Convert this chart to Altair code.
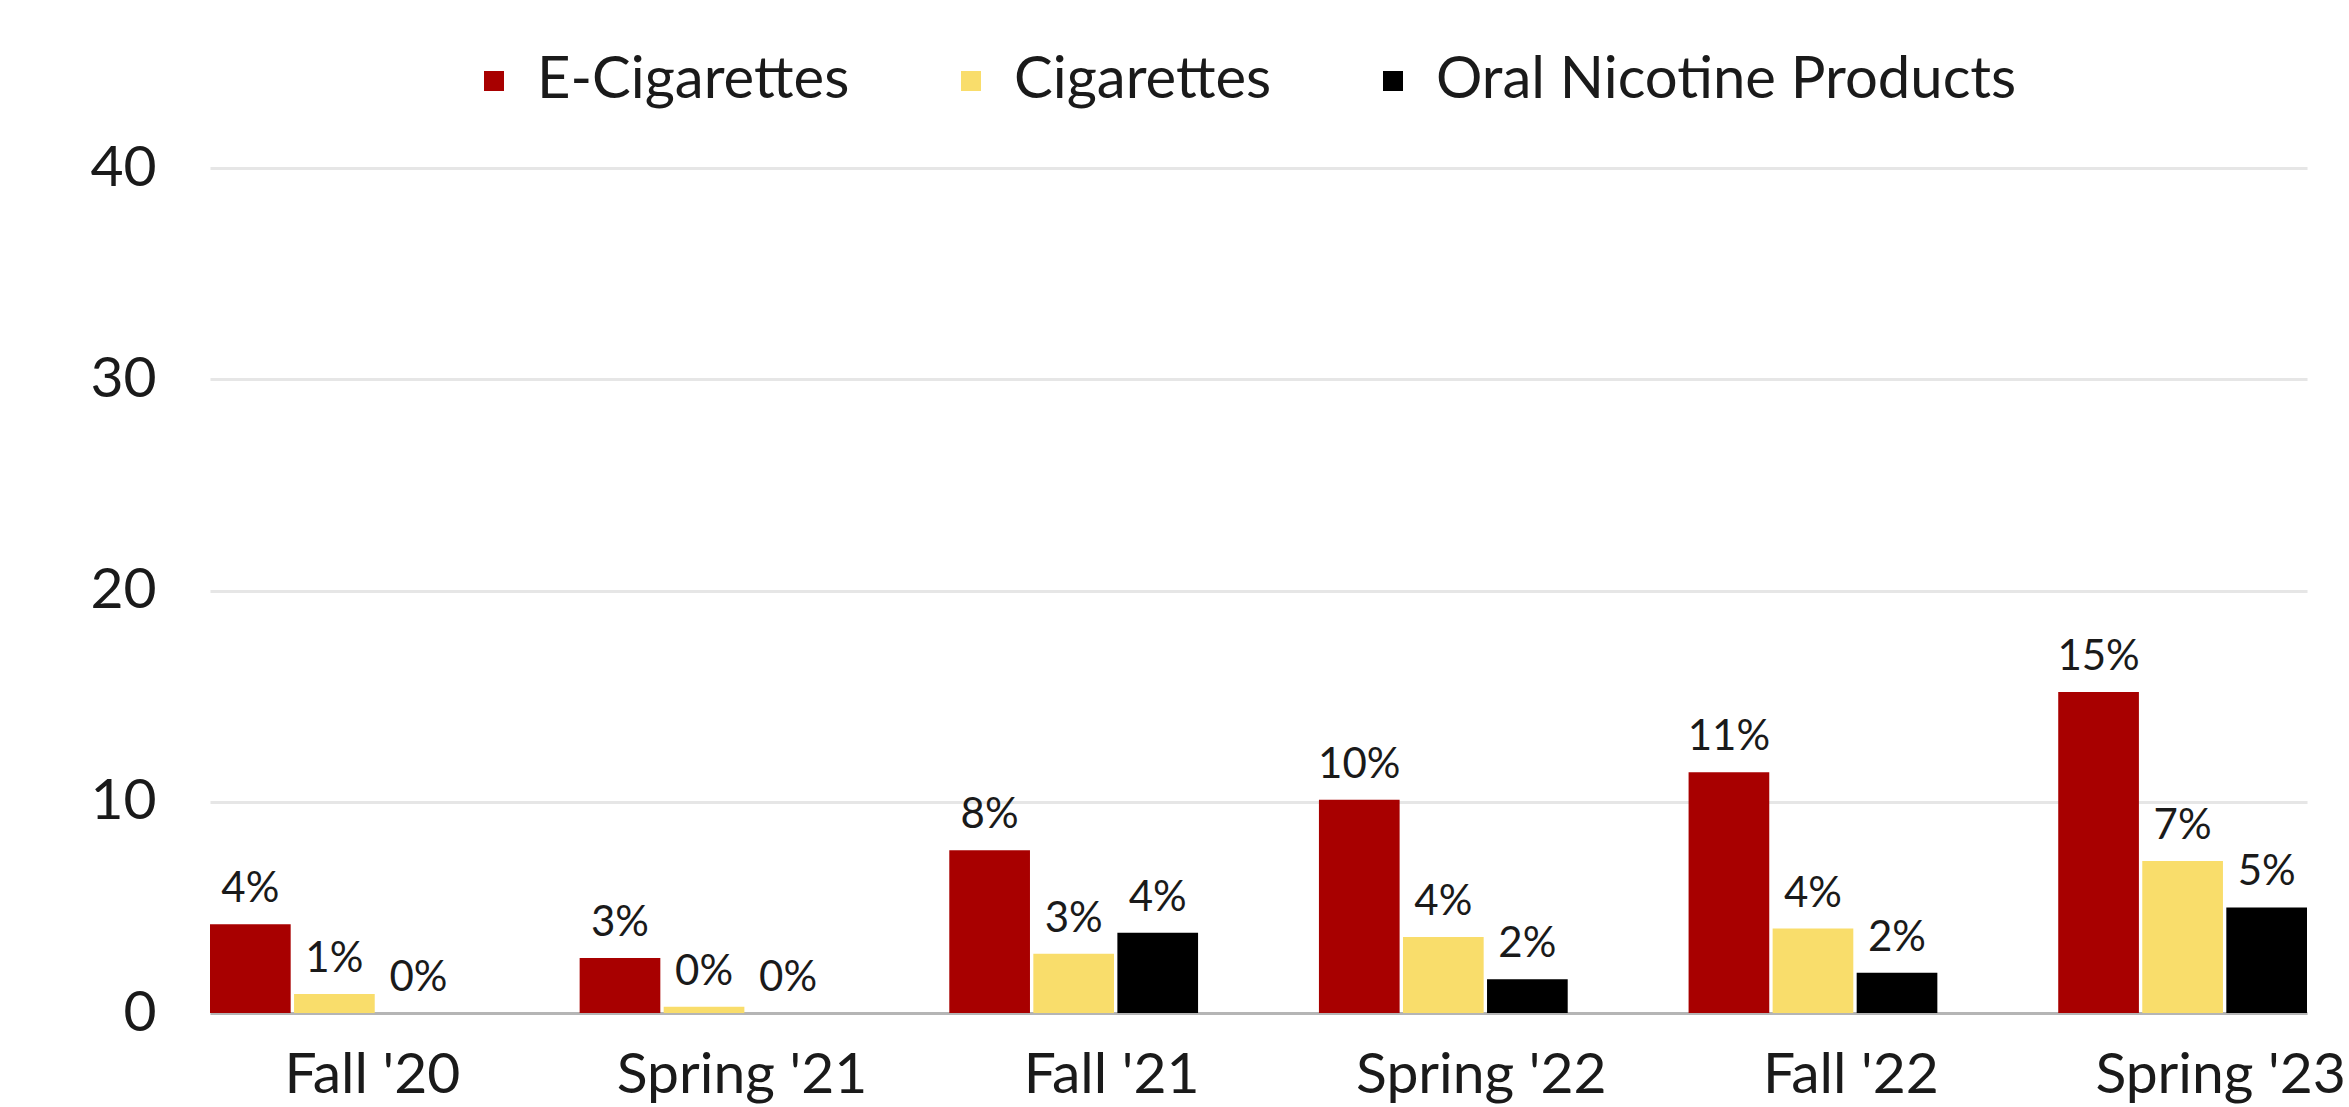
import altair as alt
import pandas as pd

# Survey waves and product categories
seasons = ["Fall '20", "Spring '21", "Fall '21", "Spring '22", "Fall '22", "Spring '23"]
products = ["E-Cigarettes", "Cigarettes", "Oral Nicotine Products"]

# Share of respondents (%) per wave
e_cigarettes = [4.2, 2.6, 7.7, 10.1, 11.4, 15.2]
cigarettes = [0.9, 0.3, 2.8, 3.6, 4.0, 7.2]
oral_nicotine = [0.0, 0.0, 3.8, 1.6, 1.9, 5.0]

colors = ["#A80000", "#F9DD6B", "#000000"]

rows = []
for prod, vals in zip(products, [e_cigarettes, cigarettes, oral_nicotine]):
    for s, v in zip(seasons, vals):
        rows.append({"season": s, "product": prod, "value": v})
df = pd.DataFrame(rows)

FONT = "Lato"
INK = "#1a1a1a"

x_enc = alt.X(
    "season:N",
    sort=seasons,
    scale=alt.Scale(paddingInner=0.327, paddingOuter=0),
    axis=alt.Axis(
        title=None,
        labelAngle=0,
        labelFontSize=57,
        labelFont=FONT,
        labelColor=INK,
        labelPadding=34,
        labelOffset=38,
        labelLimit=0,
        ticks=False,
        domain=True,
        domainColor="#b5b5b5",
        domainWidth=3,
        grid=False,
    ),
)
xoff_enc = alt.XOffset("product:N", sort=products, scale=alt.Scale(paddingInner=0.04))
y_enc = alt.Y(
    "value:Q",
    scale=alt.Scale(domain=[0, 40], nice=False),
    axis=alt.Axis(
        title=None,
        values=[0, 10, 20, 30, 40],
        labelFontSize=57,
        labelFont=FONT,
        labelColor=INK,
        labelPadding=54,
        ticks=False,
        domain=False,
        grid=True,
        gridColor="#e6e6e6",
        gridWidth=3,
    ),
)
color_enc = alt.Color(
    "product:N",
    sort=products,
    scale=alt.Scale(domain=products, range=colors),
    legend=alt.Legend(
        title=None,
        orient="none",
        direction="horizontal",
        legendX=255,
        legendY=-116,
        symbolType="square",
        symbolSize=400,
        symbolStrokeWidth=0,
        labelFontSize=58,
        labelFont=FONT,
        labelColor=INK,
        labelLimit=0,
        columnPadding=92,
        symbolOffset=0,
        labelOffset=14,
    ),
)

bars = alt.Chart(df).mark_bar().encode(
    x=x_enc, xOffset=xoff_enc, y=y_enc, color=color_enc
)

labels = (
    alt.Chart(df)
    .transform_calculate(label="format(datum.value, '.0f') + '%'")
    .mark_text(baseline="bottom", dy=-13, fontSize=42, font=FONT, color=INK)
    .encode(
        x=alt.X("season:N", sort=seasons),
        xOffset=alt.XOffset("product:N", sort=products),
        y="value:Q",
        text="label:N",
    )
)

chart = (
    alt.layer(bars, labels)
    .properties(
        width=2097,
        height=845,
        autosize=alt.AutoSizeParams(type="none"),
        padding={"left": 210, "top": 168, "right": 42, "bottom": 94},
        background="white",
    )
    .configure_view(strokeWidth=0)
)

chart.save("out.html", embed_options={"renderer": "svg", "actions": False})
